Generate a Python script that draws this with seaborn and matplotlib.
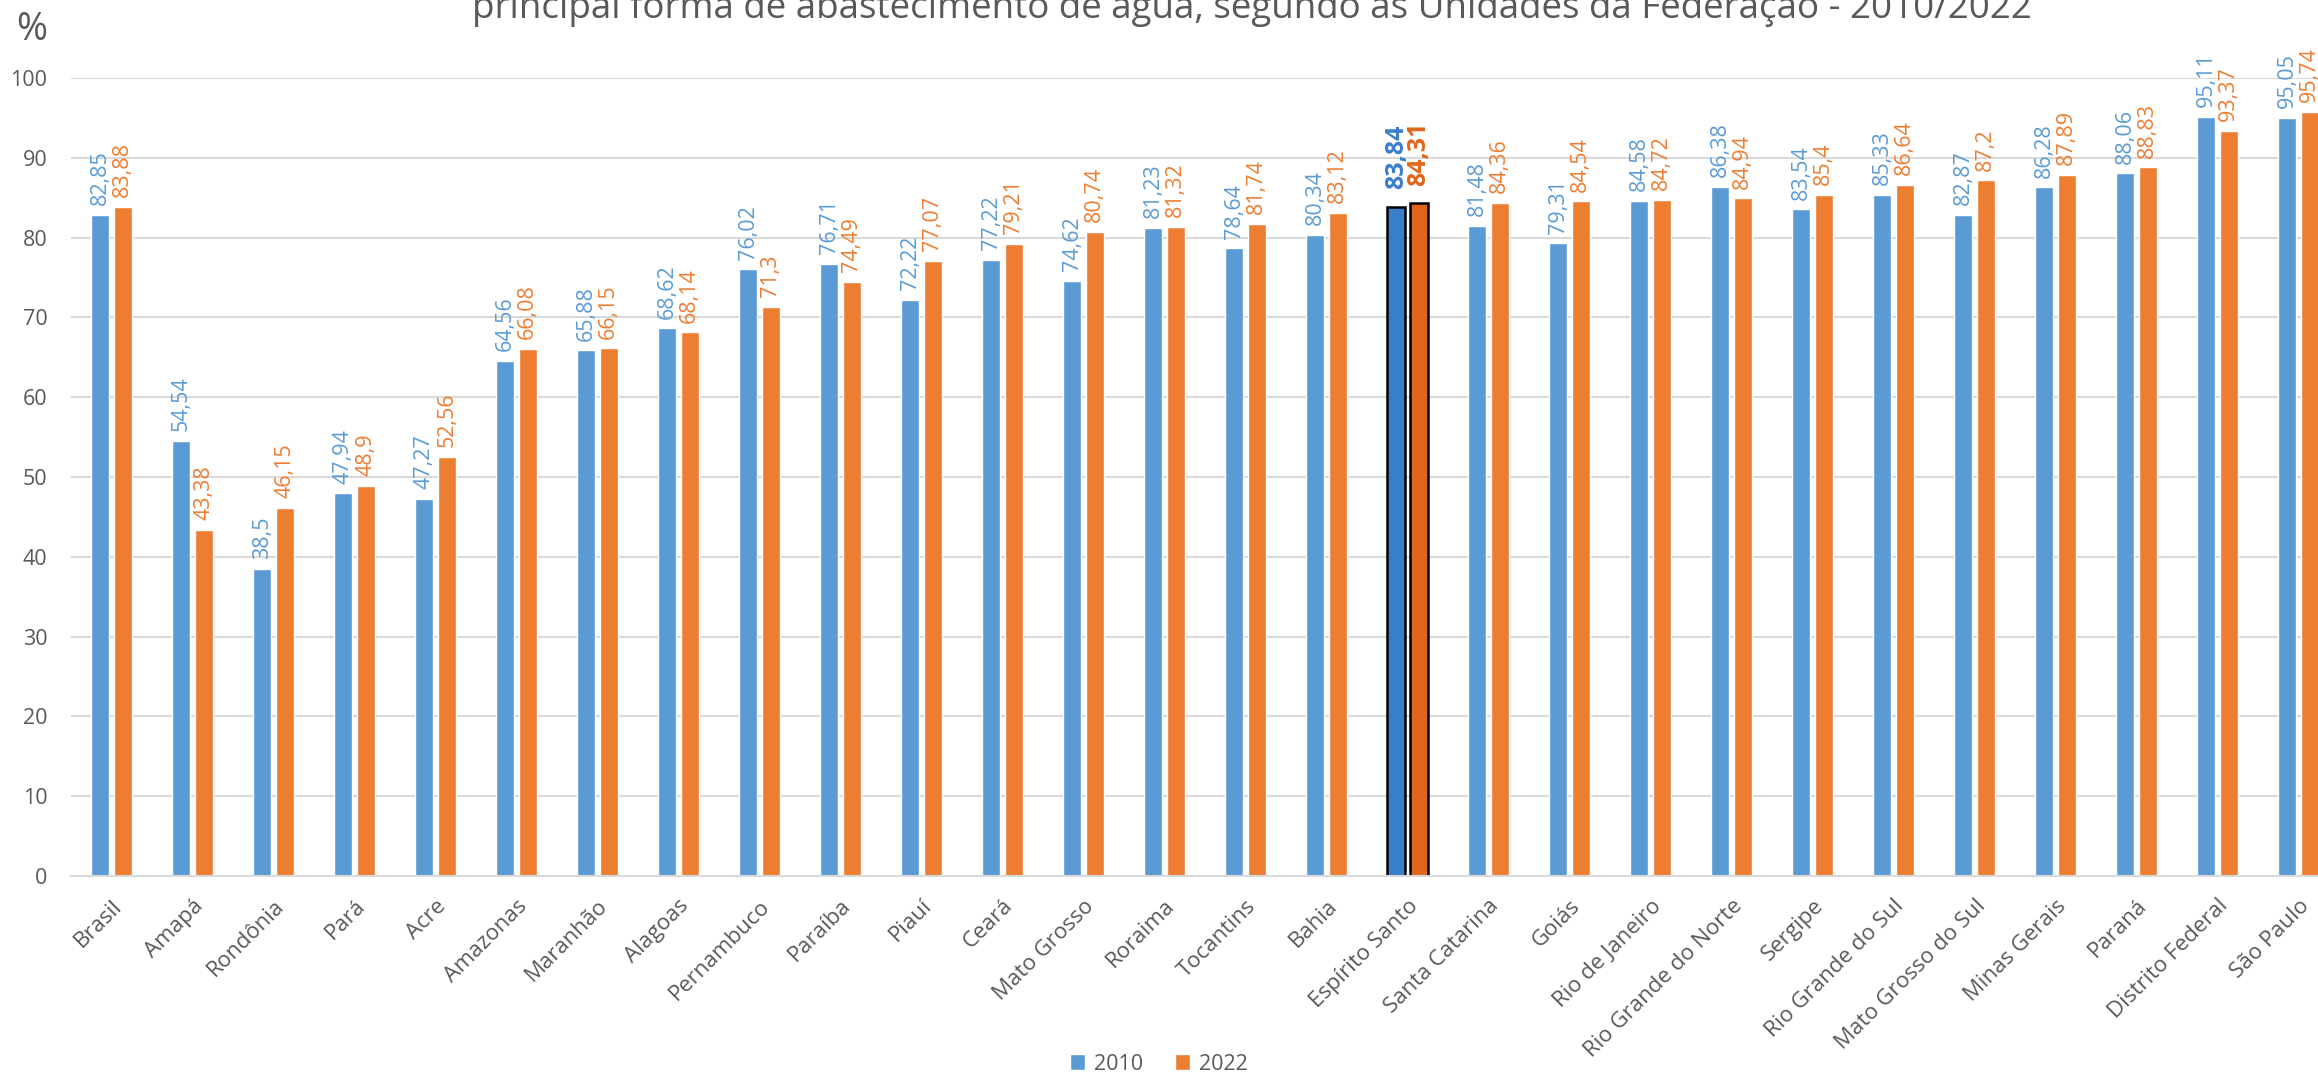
import pandas as pd
import matplotlib
matplotlib.use("Agg")
import matplotlib.pyplot as plt
import seaborn as sns

# data
estados = ['Brasil', 'Amapá', 'Rondônia', 'Pará', 'Acre', 'Amazonas', 'Maranhão',
           'Alagoas', 'Pernambuco', 'Paraíba', 'Piauí', 'Ceará', 'Mato Grosso',
           'Roraima', 'Tocantins', 'Bahia', 'Espírito Santo', 'Santa Catarina',
           'Goiás', 'Rio de Janeiro', 'Rio Grande do Norte', 'Sergipe',
           'Rio Grande do Sul', 'Mato Grosso do Sul', 'Minas Gerais', 'Paraná',
           'Distrito Federal', 'São Paulo']
v2010 = [82.85, 54.54, 38.5, 47.94, 47.27, 64.56, 65.88, 68.62, 76.02, 76.71,
         72.22, 77.22, 74.62, 81.23, 78.64, 80.34, 83.84, 81.48, 79.31, 84.58,
         86.38, 83.54, 85.33, 82.87, 86.28, 88.06, 95.11, 95.05]
v2022 = [83.88, 43.38, 46.15, 48.9, 52.56, 66.08, 66.15, 68.14, 71.3, 74.49,
         77.07, 79.21, 80.74, 81.32, 81.74, 83.12, 84.31, 84.36, 84.54, 84.72,
         84.94, 85.4, 86.64, 87.2, 87.89, 88.83, 93.37, 95.74]
anos = ['2010', '2022']
destaque = 'Espírito Santo'

cores = {'2010': '#5B9BD5', '2022': '#ED7D31'}
cores_destaque = {'2010': '#3A7FCC', '2022': '#E0661C'}
cinza = '#595959'

df = pd.DataFrame({
    'estado': estados * 2,
    'ano': ['2010'] * len(estados) + ['2022'] * len(estados),
    'valor': v2010 + v2022,
})

sns.set_style('white')
plt.rcParams['font.family'] = ['Open Sans', 'DejaVu Sans']

fig = plt.figure(figsize=(23.18, 10.77), dpi=100)
n = len(estados)
ax = fig.add_axes([71 / 2318, 201 / 1077, n * 81.0 / 2318, 798 / 1077])

sns.barplot(data=df, x='estado', y='valor', hue='ano', palette=cores,
            width=0.55, gap=0.2, ax=ax, saturation=1, legend=True)

ax.set_ylim(0, 100)
ax.set_xlim(-0.5, n - 0.5)
ax.set_yticks(range(0, 101, 10))
ax.yaxis.grid(True, color='#D9D9D9', linewidth=1.5)
ax.set_axisbelow(True)
for s in ['top', 'right', 'left']:
    ax.spines[s].set_visible(False)
ax.spines['bottom'].set_color('#D9D9D9')
ax.spines['bottom'].set_linewidth(1.5)
ax.set_xlabel('')
ax.set_ylabel('')
ax.tick_params(axis='both', length=0, colors=cinza)
ax.tick_params(axis='y', pad=17, labelsize=15.5)
ax.tick_params(axis='x', pad=14, labelsize=16)
plt.setp(ax.get_xticklabels(), rotation=45, ha='right', rotation_mode='anchor')

idx = estados.index(destaque)
for cont, ano in zip(ax.containers, anos):
    for i, barra in enumerate(cont):
        h = barra.get_height()
        txt = f'{h:.2f}'.rstrip('0').rstrip('.').replace('.', ',')
        if i == idx:
            # estado em destaque: cor mais forte, contorno preto, rótulo em negrito
            barra.set_facecolor(cores_destaque[ano])
            barra.set_edgecolor('black')
            barra.set_linewidth(1.8)
            ax.text(barra.get_x() + barra.get_width() / 2, h + 2.2, txt,
                    rotation=90, ha='center', va='bottom', fontsize=18,
                    color=cores_destaque[ano], fontweight='bold', clip_on=False)
        else:
            ax.text(barra.get_x() + barra.get_width() / 2, h + 1.2, txt,
                    rotation=90, ha='center', va='bottom', fontsize=15.5,
                    color=cores[ano], clip_on=False)

handles, labels = ax.get_legend_handles_labels()
ax.legend(handles, labels, loc='center', bbox_to_anchor=(0.5, 1 - 1064 / 1077),
          bbox_transform=fig.transFigure, ncol=2, frameon=False, fontsize=15.5,
          handlelength=0.7, handleheight=0.7, columnspacing=1.5,
          handletextpad=0.4, labelcolor=cinza)

fig.text(32 / 2318, 1 - 30 / 1077, '%', fontsize=27, color=cinza,
         ha='center', va='center')
fig.text(0.54, 1 - 18 / 1077,
         'principal forma de abastecimento de água, segundo as Unidades da Federação - 2010/2022',
         fontsize=26.5, color=cinza, ha='center', va='baseline')

fig.savefig('out.png', dpi=100, facecolor='white')
